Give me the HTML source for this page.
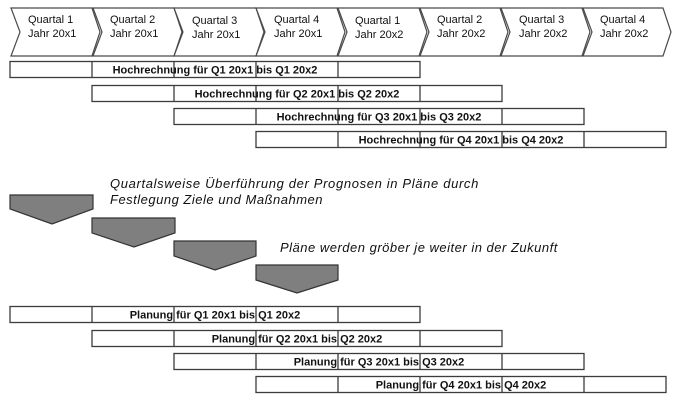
<!DOCTYPE html>
<html>
<head>
<meta charset="utf-8">
<style>
html,body{margin:0;padding:0;background:#fff;}
svg{display:block;}
.chev{fill:#fff;stroke:#4a4a4a;stroke-width:1.2;}
.ct{font-family:"Liberation Sans",Arial,sans-serif;font-size:11px;fill:#111;}
.bar{fill:#fff;stroke:#3c3c3c;stroke-width:1.3;}
.bt{font-family:"Liberation Sans",Arial,sans-serif;font-size:11px;font-weight:bold;fill:#111;}
.it{font-family:"Liberation Sans",Arial,sans-serif;font-size:13px;font-style:italic;fill:#111;letter-spacing:0.5px;}
.pent{fill:#7f7f7f;stroke:#333;stroke-width:1.2;}
</style>
</head>
<body>
<svg width="678" height="403" viewBox="0 0 678 403" xmlns="http://www.w3.org/2000/svg">
  <g>
    <polygon class="chev" points="11,8 92,8 100,32 92,56 11,56 20,32"/>
    <polygon class="chev" points="93,8 174,8 182,32 174,56 93,56 102,32"/>
    <polygon class="chev" points="174,8 256,8 264,32 256,56 174,56 183,32"/>
    <polygon class="chev" points="256,8 337,8 345,32 337,56 256,56 265,32"/>
    <polygon class="chev" points="338,8 419,8 427,32 419,56 338,56 347,32"/>
    <polygon class="chev" points="420,8 500,8 508,32 500,56 420,56 429,32"/>
    <polygon class="chev" points="501,8 582,8 590,32 582,56 501,56 510,32"/>
    <polygon class="chev" points="583,8 663,8 671,32 663,56 583,56 592,32"/>
  </g>
  <g class="ct">
    <text x="28" y="23">Quartal 1</text><text x="28" y="37">Jahr 20x1</text>
    <text x="110" y="23">Quartal 2</text><text x="110" y="37">Jahr 20x1</text>
    <text x="192" y="24">Quartal 3</text><text x="192" y="38">Jahr 20x1</text>
    <text x="274" y="23">Quartal 4</text><text x="274" y="37">Jahr 20x1</text>
    <text x="355" y="24">Quartal 1</text><text x="355" y="38">Jahr 20x2</text>
    <text x="437" y="23">Quartal 2</text><text x="437" y="37">Jahr 20x2</text>
    <text x="519" y="23">Quartal 3</text><text x="519" y="37">Jahr 20x2</text>
    <text x="600" y="23">Quartal 4</text><text x="600" y="37">Jahr 20x2</text>
  </g>

  <g>
    <rect class="bar" x="10" y="61.5" width="410" height="16"/>
    <line class="bar" x1="92" y1="61.5" x2="92" y2="77.5"/>
    <line class="bar" x1="174" y1="61.5" x2="174" y2="77.5"/>
    <line class="bar" x1="256" y1="61.5" x2="256" y2="77.5"/>
    <line class="bar" x1="338" y1="61.5" x2="338" y2="77.5"/>
    <text class="bt" x="215" y="73.5" text-anchor="middle">Hochrechnung für Q1 20x1 bis Q1 20x2</text>

    <rect class="bar" x="92" y="85.5" width="410" height="16"/>
    <line class="bar" x1="174" y1="85.5" x2="174" y2="101.5"/>
    <line class="bar" x1="256" y1="85.5" x2="256" y2="101.5"/>
    <line class="bar" x1="338" y1="85.5" x2="338" y2="101.5"/>
    <line class="bar" x1="420" y1="85.5" x2="420" y2="101.5"/>
    <text class="bt" x="297" y="97.5" text-anchor="middle">Hochrechnung für Q2 20x1 bis Q2 20x2</text>

    <rect class="bar" x="174" y="108.5" width="410" height="16"/>
    <line class="bar" x1="256" y1="108.5" x2="256" y2="124.5"/>
    <line class="bar" x1="338" y1="108.5" x2="338" y2="124.5"/>
    <line class="bar" x1="420" y1="108.5" x2="420" y2="124.5"/>
    <line class="bar" x1="502" y1="108.5" x2="502" y2="124.5"/>
    <text class="bt" x="379" y="120.5" text-anchor="middle">Hochrechnung für Q3 20x1 bis Q3 20x2</text>

    <rect class="bar" x="256" y="131.5" width="410" height="16"/>
    <line class="bar" x1="338" y1="131.5" x2="338" y2="147.5"/>
    <line class="bar" x1="420" y1="131.5" x2="420" y2="147.5"/>
    <line class="bar" x1="502" y1="131.5" x2="502" y2="147.5"/>
    <line class="bar" x1="584" y1="131.5" x2="584" y2="147.5"/>
    <text class="bt" x="461" y="143.5" text-anchor="middle">Hochrechnung für Q4 20x1 bis Q4 20x2</text>
  </g>

  <text class="it" x="110" y="188" style="letter-spacing:0.65px">Quartalsweise Überführung der Prognosen in Pläne durch</text>
  <text class="it" x="110" y="204">Festlegung Ziele und Maßnahmen</text>
  <text class="it" x="280" y="252">Pläne werden gröber je weiter in der Zukunft</text>

  <polygon class="pent" points="10,195 93,195 93,209 52,224 10,209"/>
  <polygon class="pent" points="92,218 175,218 175,233 134,247 92,233"/>
  <polygon class="pent" points="174,241 256,241 256,256 215,270 174,256"/>
  <polygon class="pent" points="256,265 338,265 338,280 297,293 256,280"/>

  <g>
    <rect class="bar" x="10" y="306.5" width="410" height="16"/>
    <line class="bar" x1="92" y1="306.5" x2="92" y2="322.5"/>
    <line class="bar" x1="174" y1="306.5" x2="174" y2="322.5"/>
    <line class="bar" x1="256" y1="306.5" x2="256" y2="322.5"/>
    <line class="bar" x1="338" y1="306.5" x2="338" y2="322.5"/>
    <text class="bt" x="215" y="318.5" text-anchor="middle">Planung für Q1 20x1 bis Q1 20x2</text>

    <rect class="bar" x="92" y="330.5" width="410" height="16"/>
    <line class="bar" x1="174" y1="330.5" x2="174" y2="346.5"/>
    <line class="bar" x1="256" y1="330.5" x2="256" y2="346.5"/>
    <line class="bar" x1="338" y1="330.5" x2="338" y2="346.5"/>
    <line class="bar" x1="420" y1="330.5" x2="420" y2="346.5"/>
    <text class="bt" x="297" y="342.5" text-anchor="middle">Planung für Q2 20x1 bis Q2 20x2</text>

    <rect class="bar" x="174" y="353.5" width="410" height="16"/>
    <line class="bar" x1="256" y1="353.5" x2="256" y2="369.5"/>
    <line class="bar" x1="338" y1="353.5" x2="338" y2="369.5"/>
    <line class="bar" x1="420" y1="353.5" x2="420" y2="369.5"/>
    <line class="bar" x1="502" y1="353.5" x2="502" y2="369.5"/>
    <text class="bt" x="379" y="365.5" text-anchor="middle">Planung für Q3 20x1 bis Q3 20x2</text>

    <rect class="bar" x="256" y="376.5" width="410" height="16"/>
    <line class="bar" x1="338" y1="376.5" x2="338" y2="392.5"/>
    <line class="bar" x1="420" y1="376.5" x2="420" y2="392.5"/>
    <line class="bar" x1="502" y1="376.5" x2="502" y2="392.5"/>
    <line class="bar" x1="584" y1="376.5" x2="584" y2="392.5"/>
    <text class="bt" x="461" y="388.5" text-anchor="middle">Planung für Q4 20x1 bis Q4 20x2</text>
  </g>
</svg>
</body>
</html>
